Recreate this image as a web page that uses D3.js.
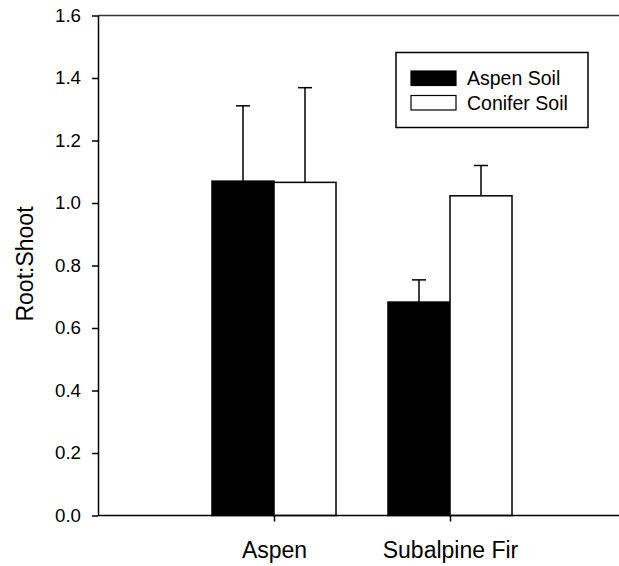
<!DOCTYPE html>
<head>
<meta charset="utf-8">
<style>
body { margin: 0; background: #fff; }
svg { display: block; font-family: "Liberation Sans", Arial, sans-serif; }
.axis path, .axis line { stroke: #000; stroke-width: 1.5; }
.axis text { fill: #000; }
</style>
</head>
<body>
<div id="chart"></div>
<script src="https://cdn.jsdelivr.net/npm/d3@7"></script>
<script>
(function() {
  "use strict";

  // data
  var categories = ["Aspen", "Subalpine Fir"];
  var seriesNames = ["Aspen Soil", "Conifer Soil"];
  var seriesFill = ["#000", "#fff"];
  var aspenSoil = [1.070, 0.683];
  var aspenSoilErr = [0.241, 0.071];
  var coniferSoil = [1.066, 1.023];
  var coniferSoilErr = [0.303, 0.097];
  var yTicks = [0.0, 0.2, 0.4, 0.6, 0.8, 1.0, 1.2, 1.4, 1.6];

  var W = 619, H = 566,
    left = 98, right = 626, top = 15.5, bottom = 515.5,
    barW = 62, capW = 14;

  var svg = d3.select("#chart").append("svg")
    .attr("width", W)
    .attr("height", H);

  var y = d3.scaleLinear().domain([0, 1.6]).range([bottom, top]);
  var x = d3.scalePoint().domain(categories).range([left, right]).padding(1);
  var sub = d3.scaleBand().domain(seriesNames).range([-barW, barW]).padding(0);

  var rows = [];
  categories.forEach(function(c, i) {
    rows.push({cat: c, s: 0, v: aspenSoil[i], e: aspenSoilErr[i]});
    rows.push({cat: c, s: 1, v: coniferSoil[i], e: coniferSoilErr[i]});
  });

  // error bars (upper only), drawn behind bars
  var err = svg.append("g").attr("stroke", "#000").attr("stroke-width", 1.5);
  rows.forEach(function(d) {
    var cx = x(d.cat) + sub(seriesNames[d.s]) + sub.bandwidth() / 2;
    err.append("line")
      .attr("x1", cx).attr("x2", cx)
      .attr("y1", y(d.v)).attr("y2", y(d.v + d.e));
    err.append("line")
      .attr("x1", cx - capW / 2).attr("x2", cx + capW / 2)
      .attr("y1", y(d.v + d.e)).attr("y2", y(d.v + d.e));
  });

  svg.append("g").selectAll("rect")
    .data(rows)
    .enter().append("rect")
      .attr("x", function(d) { return x(d.cat) + sub(seriesNames[d.s]); })
      .attr("y", function(d) { return y(d.v); })
      .attr("width", sub.bandwidth())
      .attr("height", function(d) { return y(0) - y(d.v); })
      .attr("fill", function(d) { return seriesFill[d.s]; })
      .attr("stroke", "#000")
      .attr("stroke-width", 1.5);

  // top frame line
  svg.append("line")
    .attr("x1", left).attr("x2", right)
    .attr("y1", y(1.6)).attr("y2", y(1.6))
    .attr("stroke", "#333").attr("stroke-width", 1.5);

  var yAxis = svg.append("g")
    .attr("class", "axis")
    .attr("transform", "translate(" + left + ",0)")
    .call(d3.axisLeft(y).tickValues(yTicks).tickFormat(d3.format(".1f"))
      .tickSize(6).tickSizeOuter(0).tickPadding(11));
  yAxis.selectAll("text").attr("font-size", 18.7).attr("font-family", null);

  var xAxis = svg.append("g")
    .attr("class", "axis")
    .attr("transform", "translate(0," + bottom + ")")
    .call(d3.axisBottom(x).tickSize(6).tickSizeOuter(0).tickPadding(20));
  xAxis.selectAll("text").attr("font-size", 23).attr("font-family", null);
  xAxis.select(".domain").attr("d", "M" + left + ",0H" + right);

  svg.append("text")
    .attr("transform", "translate(33,264) rotate(-90)")
    .attr("text-anchor", "middle")
    .attr("font-size", 23)
    .text("Root:Shoot");

  // legend
  var lg = svg.append("g");
  lg.append("rect")
    .attr("x", 396).attr("y", 52.5).attr("width", 192).attr("height", 75)
    .attr("fill", "#fff").attr("stroke", "#000").attr("stroke-width", 1.5);
  seriesNames.forEach(function(name, i) {
    lg.append("rect")
      .attr("x", 411).attr("y", 71 + i * 24.5).attr("width", 45).attr("height", 14.5)
      .attr("fill", seriesFill[i]).attr("stroke", "#000").attr("stroke-width", 1.2);
    lg.append("text")
      .attr("x", 467).attr("y", 85 + i * 24.5)
      .attr("font-size", 19.5)
      .text(name);
  });
})();
</script>
</body>
